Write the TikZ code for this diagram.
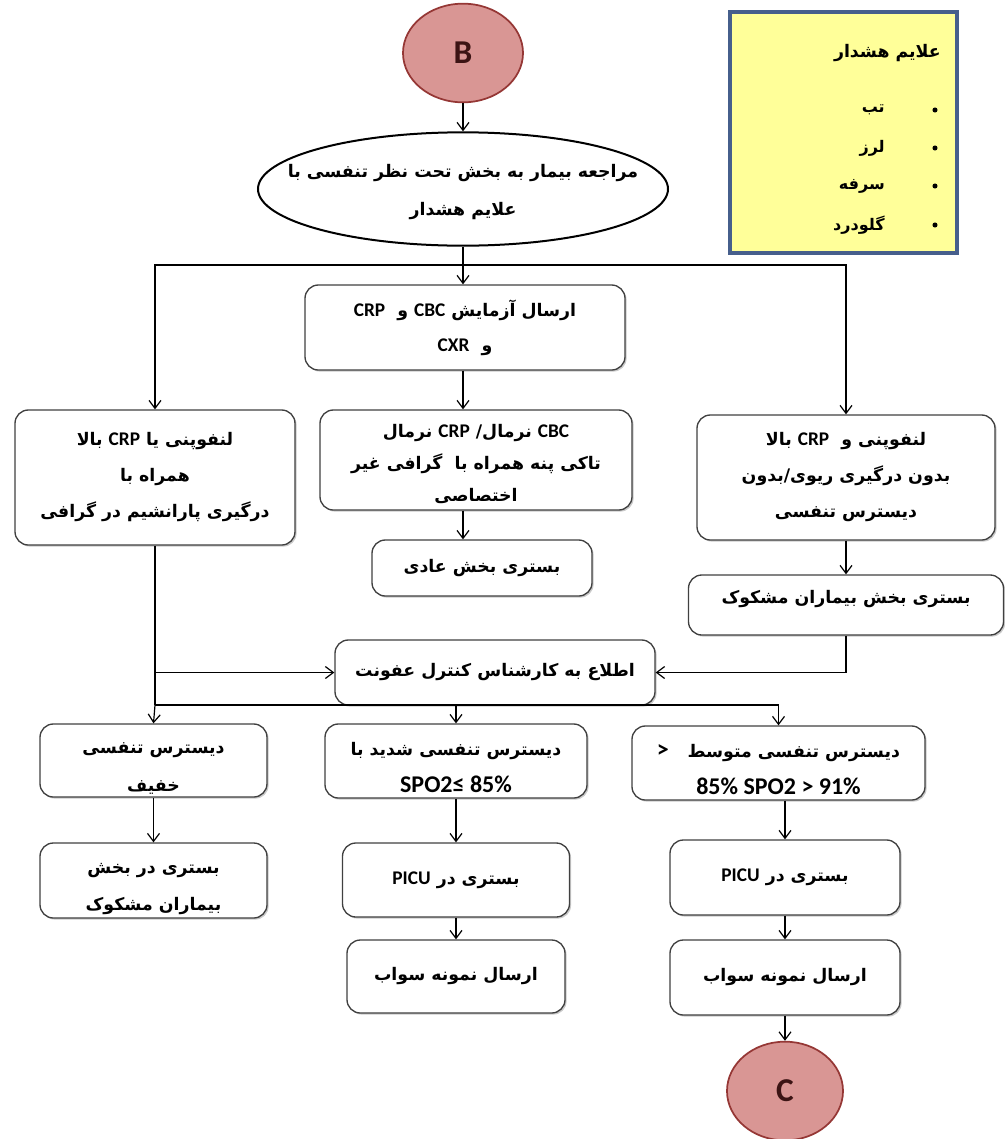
\documentclass[tikz,border=0pt]{standalone}
\usepackage{fontspec}
\usetikzlibrary{arrows.meta,shapes.geometric,shadows}
\TeXXeTstate=1
\newfontfamily\farsi[Script=Arabic]{DejaVu Sans}
\newfontfamily\latnfont{Carlito}
\newcommand{\pers}[1]{\beginR #1\endR}
\newcommand{\embl}[1]{\beginL{\latnfont\bfseries\fontsize{14.5}{26}\selectfont #1}\endL}
\newcommand{\biglat}[1]{{\latnfont\bfseries\fontsize{18}{28}\selectfont #1}}
\newcommand{\downstrut}{\rule{0pt}{20pt}}
\definecolor{circfill}{HTML}{D99694}
\definecolor{circdraw}{HTML}{953735}
\definecolor{letter}{HTML}{3C1414}
\definecolor{warnfill}{HTML}{FFFF99}
\definecolor{warndraw}{RGB}{70,95,140}
\begin{document}
\begin{tikzpicture}[x=0.75pt,y=-0.75pt,
  box/.style={draw=black!75, line width=1pt, rounded corners=10pt, fill=white,
    drop shadow={shadow xshift=1.2pt, shadow yshift=-1.2pt, opacity=0.35, fill=black!60},
    font=\farsi\bfseries\fontsize{13}{26}\selectfont, align=center, inner sep=2pt},
  circ/.style={ellipse, draw=circdraw, line width=1.3pt, fill=circfill,
    font=\latnfont\bfseries\fontsize{25}{30}\selectfont, text=letter},
  arr/.style={-{Straight Barb[length=6pt,width=9pt]}, line width=0.9pt},
  ln/.style={line width=0.9pt},
  witem/.style={anchor=east, font=\farsi\bfseries\fontsize{12}{14}\selectfont, inner sep=0pt},
  bul/.style={circle, fill=black, inner sep=0pt, minimum size=3.8pt},
]
\useasboundingbox (0,0) rectangle (1005,1139);

% top circle and main ellipse
\node[circ, minimum width=90pt, minimum height=74pt] (B) at (463,53) {B};
\node[ellipse, draw=black, line width=1.5pt, minimum width=307.5pt, minimum height=85pt, inner sep=0pt] (ell) at (463,189) {};
\node[font=\farsi\bfseries\fontsize{13}{28.5}\selectfont, align=center, inner sep=0pt] (ellt) at (463,192)
  {\pers{مراجعه بیمار به بخش تحت نظر تنفسی با}\\ \pers{علایم هشدار}};

% warning box
\node[draw=warndraw, line width=3pt, fill=warnfill, minimum width=170pt, minimum height=180.75pt,
  drop shadow={shadow xshift=1pt, shadow yshift=-1pt, opacity=0.3}] (warn) at (843.5,132.5) {};
\node[anchor=east, font=\farsi\bfseries\fontsize{13}{15}\selectfont, inner sep=0pt] (wt) at (941,53) {\pers{علایم هشدار}};
\node[bul] (b1) at (935,110) {};
\node[bul] (b2) at (935,148) {};
\node[bul] (b3) at (935,186) {};
\node[bul] (b4) at (935,225) {};
\node[witem] (w1) at (885,110) {\pers{تب}};
\node[witem] (w2) at (885,148) {\pers{لرز}};
\node[witem] (w3) at (885,186) {\pers{سرفه}};
\node[witem] (w4) at (885,225) {\pers{گلودرد}};

% second level
\node[box, minimum width=240pt, minimum height=63.75pt] (cbc) at (465,327.5)
  {\pers{ارسال آزمایش \embl{CBC}\ و\ \ \embl{CRP}}\\ \pers{و\ \ \embl{CXR}}};
\node[box, minimum width=210pt, minimum height=101.25pt, font=\farsi\bfseries\fontsize{13}{27}\selectfont] (left) at (155,477.5)
  {\pers{لنفوپنی یا \embl{CRP} بالا}\\ \pers{همراه با}\\ \pers{درگیری پارانشیم در گرافی}};
\node[box, minimum width=234pt, minimum height=75pt, font=\farsi\bfseries\fontsize{13}{24}\selectfont] (mid) at (476,460)
  {\rule{0pt}{16pt}\pers{\embl{CBC} نرمال/ \embl{CRP} نرمال}\\ \pers{تاکی پنه همراه با\ \ گرافی غیر}\\ \pers{اختصاصی}};
\node[box, minimum width=223.5pt, minimum height=93.75pt, font=\farsi\bfseries\fontsize{13}{27}\selectfont] (right) at (846,477.5)
  {\pers{لنفوپنی و\ \ \embl{CRP} بالا}\\ \pers{بدون درگیری ریوی/بدون}\\ \pers{دیسترس تنفسی}};
\node[box, minimum width=165pt, minimum height=42pt] (normal) at (482,568) {\pers{بستری بخش عادی}};
\node[box, minimum width=236.25pt, minimum height=45pt, text depth=12pt] (susp) at (846,605) {\pers{بستری بخش بیماران مشکوک}};
\node[box, minimum width=240pt, minimum height=48.75pt] (infect) at (495,672.5) {\pers{اطلاع به کارشناس کنترل عفونت}};

% bottom rows
\node[box, minimum width=170.25pt, minimum height=54.75pt, font=\farsi\bfseries\fontsize{13}{28}\selectfont] (d1) at (153.5,760.5)
  {\downstrut\pers{دیسترس تنفسی}\\ \pers{خفیف}};
\node[box, minimum width=196.5pt, minimum height=55.5pt, font=\farsi\bfseries\fontsize{13}{28}\selectfont] (d2) at (456,761)
  {\downstrut\pers{دیسترس تنفسی شدید با}\\ \biglat{SPO2≤ 85\%}};
\node[box, minimum width=219.75pt, minimum height=55.5pt, font=\farsi\bfseries\fontsize{13}{28}\selectfont] (d3) at (778.5,763)
  {\downstrut\biglat{>}\hspace{14pt}\pers{دیسترس تنفسی متوسط}\\ \biglat{85\% SPO2 > 91\%}};
\node[box, minimum width=170.25pt, minimum height=56.25pt, font=\farsi\bfseries\fontsize{13}{28}\selectfont] (h1) at (153.5,880.5)
  {\downstrut\pers{بستری در بخش}\\ \pers{بیماران مشکوک}};
\node[box, minimum width=170.25pt, minimum height=55.5pt] (h2) at (456,880) {\pers{بستری در \embl{PICU}}};
\node[box, minimum width=172.5pt, minimum height=56.25pt] (h3) at (785,877.5) {\pers{بستری در \embl{PICU}}};
\node[box, minimum width=163.5pt, minimum height=54.75pt] (s2) at (456,976.5) {\pers{ارسال نمونه سواب}};
\node[box, minimum width=172.5pt, minimum height=56.25pt] (s3) at (785,977.5) {\pers{ارسال نمونه سواب}};
\node[circ, minimum width=87pt, minimum height=74pt] (C) at (785,1091) {C};

% junctions
\coordinate (j1) at (463,265);
\coordinate (j2) at (155,705);
\coordinate (mx) at (463,0);

% connectors
\draw[arr] (B.south) -- (ell.north);
\draw[ln] (ell.south) -- (j1);
\draw[arr] (j1) -| (left.north);
\draw[arr] (j1) -| (right.north);
\draw[arr] (j1) -- (mx |- cbc.north);
\draw[arr] (mx |- cbc.south) -- (mx |- mid.north);
\draw[arr] (mx |- mid.south) -- (mx |- normal.north);
\draw[arr] (right.south) -- (susp.north);
\draw[arr] (susp.south) |- (infect.east);
\draw[ln] (left.south) -- (j2);
\draw[arr] (left.south |- infect.west) -- (infect.west);
\draw[arr] (j2) -- (d1.north);
\draw[arr] (j2) -| (d2.north);
\draw[arr] (j2) -| (d3.north);
\draw[arr] (d1.south) -- (h1.north);
\draw[arr] (d2.south) -- (h2.north);
\draw[arr] (h3.north |- d3.south) -- (h3.north);
\draw[arr] (h2.south) -- (s2.north);
\draw[arr] (h3.south) -- (s3.north);
\draw[arr] (s3.south) -- (C.north);
\end{tikzpicture}
\end{document}
